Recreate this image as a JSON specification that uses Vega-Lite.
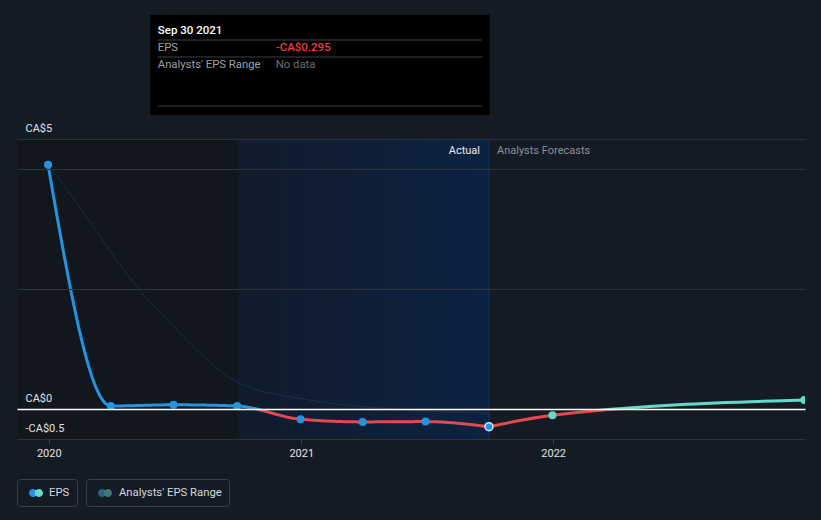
{
  "$schema": "https://vega.github.io/schema/vega-lite/v6.json",
  "width": 788,
  "height": 300,
  "autosize": {"type": "none"},
  "padding": {"left": 17, "top": 139, "right": 16, "bottom": 81},
  "background": "#151b24",
  "config": {
    "view": {"stroke": null},
    "font": "Roboto",
    "legend": {"labelFont": "Roboto", "labelFontSize": 11.3, "labelColor": "#d5d9df"}
  },
  "resolve": {"scale": {"strokeDash": "independent"}, "legend": {"strokeDash": "independent"}},
  "datasets": {
    "actual": [
      {"date": "2019-12-31", "eps": 4.07},
      {"date": "2020-03-31", "eps": 0.05},
      {"date": "2020-06-30", "eps": 0.07},
      {"date": "2020-09-30", "eps": 0.05},
      {"date": "2020-12-31", "eps": -0.17},
      {"date": "2021-03-31", "eps": -0.215},
      {"date": "2021-06-30", "eps": -0.21},
      {"date": "2021-09-30", "eps": -0.295}
    ],
    "forecast": [
      {"date": "2021-09-30", "eps": -0.295, "kind": "last actual"},
      {"date": "2021-12-31", "eps": -0.105, "kind": "estimate"},
      {"date": "2022-12-31", "eps": 0.15, "kind": "estimate"}
    ],
    "consensus": [
      {"date": "2019-12-31", "eps": 4.07},
      {"date": "2020-01-17", "eps": 3.82},
      {"date": "2020-05-12", "eps": 1.98},
      {"date": "2020-07-02", "eps": 1.35},
      {"date": "2020-09-30", "eps": 0.45},
      {"date": "2021-01-13", "eps": 0.15},
      {"date": "2021-05-13", "eps": 0.0},
      {"date": "2021-09-30", "eps": -0.07}
    ],
    "periods": [
      {"start": "2019-11-16", "end": "2020-09-30", "period": "before"},
      {"start": "2020-09-30", "end": "2021-09-30", "period": "last year"}
    ]
  },
  "layer": [
    {
      "data": {"name": "periods"},
      "transform": [{"filter": "datum.period === 'before'"}],
      "mark": {"type": "rect", "fill": "#12161d"},
      "encoding": {
        "x": {
          "field": "start", "type": "temporal",
          "scale": {"type": "utc", "domain": [{"year": 2019, "month": 11, "date": 16, "utc": true}, {"year": 2023, "month": 1, "date": 1, "utc": true}]},
          "axis": {
            "values": [{"year": 2020, "month": 1, "date": 1, "utc": true}, {"year": 2021, "month": 1, "date": 1, "utc": true}, {"year": 2022, "month": 1, "date": 1, "utc": true}],
            "format": "%Y", "title": null, "grid": false, "domain": false,
            "tickColor": "#3a414c", "tickSize": 5, "labelColor": "#e0e3e7", "labelFontSize": 11,
            "labelPadding": 3, "labelFlush": false, "labelFont": "Roboto"
          }
        },
        "x2": {"field": "end"}
      }
    },
    {
      "data": {"name": "periods"},
      "transform": [{"filter": "datum.period === 'last year'"}],
      "mark": {
        "type": "rect",
        "fill": {"gradient": "linear", "x1": 0, "y1": 0, "x2": 1, "y2": 0,
          "stops": [{"offset": 0, "color": "#111b2b"}, {"offset": 1, "color": "#0c2242"}]}
      },
      "encoding": {
        "x": {"field": "start", "type": "temporal"},
        "x2": {"field": "end"}
      }
    },
    {
      "data": {"name": "periods"},
      "transform": [{"filter": "datum.period === 'last year'"}],
      "mark": {"type": "rule", "color": "#163052", "strokeWidth": 1},
      "encoding": {
        "x": {"field": "end", "type": "temporal"}
      }
    },
    {
      "data": {"name": "consensus"},
      "mark": {
        "type": "line", "interpolate": "monotone", "strokeWidth": 1, "opacity": 0.45,
        "stroke": {"gradient": "linear", "x1": 0, "y1": 0, "x2": 0, "y2": 1,
          "stops": [{"offset": 0, "color": "#1e4d73"}, {"offset": 0.983, "color": "#1e4d73"}, {"offset": 0.983, "color": "#6a2a3a"}, {"offset": 1, "color": "#6a2a3a"}]}
      },
      "encoding": {
        "x": {"field": "date", "type": "temporal"},
        "y": {"field": "eps", "type": "quantitative"},
        "strokeDash": {
          "datum": "Analysts' EPS Range", "type": "nominal",
          "scale": {"range": [[1, 0]]},
          "legend": {
            "orient": "none", "legendX": 69, "legendY": 340, "title": null,
            "padding": 7, "strokeColor": "#3a414c", "cornerRadius": 3,
            "symbolOffset": 5, "labelOffset": 7, "symbolSize": 196,
            "encoding": {
              "symbols": {
                "shape": {"value": "M-1,0A0.57,0.57,0,1,0,0.14,0A0.57,0.57,0,1,0,-1,0ZM-0.14,0A0.57,0.57,0,1,0,1,0A0.57,0.57,0,1,0,-0.14,0Z"},
                "fill": {"value": {"gradient": "linear", "x1": 0, "y1": 0, "x2": 1, "y2": 0,
                  "stops": [{"offset": 0, "color": "#2c5f86"}, {"offset": 0.43, "color": "#2c5f86"}, {"offset": 0.43, "color": "#3d7a76"}, {"offset": 1, "color": "#3d7a76"}]}},
                "stroke": {"value": "transparent"},
                "strokeWidth": {"value": 0},
                "opacity": {"value": 1},
                "size": {"value": 196}
              }
            }
          }
        }
      }
    },
    {
      "data": {"name": "actual"},
      "mark": {
        "type": "line", "interpolate": "monotone", "strokeWidth": 3,
        "stroke": {"gradient": "linear", "x1": 0, "y1": 0, "x2": 0, "y2": 1,
          "stops": [{"offset": 0, "color": "#2394df"}, {"offset": 0.932, "color": "#2394df"}, {"offset": 0.932, "color": "#e5484d"}, {"offset": 1, "color": "#e5484d"}]}
      },
      "encoding": {
        "x": {"field": "date", "type": "temporal"},
        "y": {
          "field": "eps", "type": "quantitative",
          "scale": {"domain": [-0.5, 4.5], "nice": false, "zero": false},
          "axis": {
            "values": [-0.5, 0, 2, 4, 4.5], "title": null, "domain": false, "ticks": false, "tickSize": 0,
            "labelAlign": "left", "labelBaseline": "alphabetic", "labelPadding": -8, "labelOffset": -8,
            "labelColor": "#e0e3e7", "labelFontSize": 11, "labelFont": "Roboto",
            "labelOverlap": false, "labelFlush": false, "labelBound": false,
            "labelExpr": "datum.value === 4.5 ? 'CA$5' : datum.value === 0 ? 'CA$0' : datum.value === -0.5 ? '-CA$0.5' : ''",
            "gridColor": {"condition": {"test": "datum.value === 0", "value": "#ffffff"}, "value": "#2d333d"},
            "gridWidth": {"condition": {"test": "datum.value === 0", "value": 1.5}, "value": 1},
            "zindex": 1
          }
        },
        "strokeDash": {
          "datum": "EPS", "type": "nominal",
          "scale": {"range": [[1, 0]]},
          "legend": {
            "orient": "none", "legendX": 0, "legendY": 340, "title": null,
            "padding": 7, "strokeColor": "#3a414c", "cornerRadius": 3,
            "symbolOffset": 5, "labelOffset": 6, "symbolSize": 196,
            "encoding": {
              "symbols": {
                "shape": {"value": "M-1,0A0.57,0.57,0,1,0,0.14,0A0.57,0.57,0,1,0,-1,0ZM-0.14,0A0.57,0.57,0,1,0,1,0A0.57,0.57,0,1,0,-0.14,0Z"},
                "fill": {"value": {"gradient": "linear", "x1": 0, "y1": 0, "x2": 1, "y2": 0,
                  "stops": [{"offset": 0, "color": "#2394df"}, {"offset": 0.43, "color": "#2394df"}, {"offset": 0.43, "color": "#62dac6"}, {"offset": 1, "color": "#62dac6"}]}},
                "stroke": {"value": "transparent"},
                "strokeWidth": {"value": 0},
                "opacity": {"value": 1},
                "size": {"value": 196}
              }
            }
          }
        }
      }
    },
    {
      "data": {"name": "forecast"},
      "mark": {
        "type": "line", "interpolate": "monotone", "strokeWidth": 3,
        "stroke": {"gradient": "linear", "x1": 0, "y1": 0, "x2": 0, "y2": 1,
          "stops": [{"offset": 0, "color": "#62dac6"}, {"offset": 0.337, "color": "#62dac6"}, {"offset": 0.337, "color": "#e5484d"}, {"offset": 1, "color": "#e5484d"}]}
      },
      "encoding": {
        "x": {"field": "date", "type": "temporal"},
        "y": {"field": "eps", "type": "quantitative"}
      }
    },
    {
      "data": {"name": "forecast"},
      "transform": [{"filter": "datum.kind === 'estimate'"}],
      "mark": {"type": "point", "filled": true, "shape": "circle", "size": 64, "color": "#62dac6", "opacity": 1, "clip": true},
      "encoding": {
        "x": {"field": "date", "type": "temporal"},
        "y": {"field": "eps", "type": "quantitative"}
      }
    },
    {
      "data": {"name": "actual"},
      "mark": {"type": "point", "filled": true, "shape": "circle", "size": 64, "color": "#2394df", "stroke": "#dde6ef", "opacity": 1},
      "encoding": {
        "x": {"field": "date", "type": "temporal"},
        "y": {"field": "eps", "type": "quantitative"},
        "strokeWidth": {"condition": {"test": "datum.eps === -0.295", "value": 1.5}, "value": 0}
      }
    },
    {
      "data": {"values": [{"label": "Actual"}]},
      "mark": {"type": "text", "align": "right", "baseline": "middle", "dx": -9, "fontSize": 11, "color": "#e8eaed", "font": "Roboto"},
      "encoding": {
        "x": {"datum": {"year": 2021, "month": 9, "date": 30, "utc": true}, "type": "temporal"},
        "y": {"datum": 4.3, "type": "quantitative"},
        "text": {"field": "label"}
      }
    },
    {
      "data": {"values": [{"label": "Analysts Forecasts"}]},
      "mark": {"type": "text", "align": "left", "baseline": "middle", "dx": 8, "fontSize": 11, "color": "#8b9099", "font": "Roboto"},
      "encoding": {
        "x": {"datum": {"year": 2021, "month": 9, "date": 30, "utc": true}, "type": "temporal"},
        "y": {"datum": 4.3, "type": "quantitative"},
        "text": {"field": "label"}
      }
    },
    {
      "data": {"values": [{}]},
      "mark": {"type": "rect", "fill": "#000000"},
      "encoding": {
        "x": {"datum": {"year": 2020, "month": 5, "date": 27, "utc": true}, "type": "temporal"},
        "x2": {"datum": {"year": 2021, "month": 10, "date": 1, "utc": true}},
        "y": {"datum": 6.567, "type": "quantitative"},
        "y2": {"datum": 4.9}
      }
    },
    {
      "data": {"values": [{}]},
      "mark": {"type": "rule", "color": "#3a3f47", "strokeWidth": 1},
      "encoding": {
        "x": {"datum": {"year": 2020, "month": 6, "date": 7, "utc": true}, "type": "temporal"},
        "x2": {"datum": {"year": 2021, "month": 9, "date": 20, "utc": true}},
        "y": {"datum": 6.15, "type": "quantitative"}
      }
    },
    {
      "data": {"values": [{}]},
      "mark": {"type": "rule", "color": "#3a3f47", "strokeWidth": 1},
      "encoding": {
        "x": {"datum": {"year": 2020, "month": 6, "date": 7, "utc": true}, "type": "temporal"},
        "x2": {"datum": {"year": 2021, "month": 9, "date": 20, "utc": true}},
        "y": {"datum": 5.867, "type": "quantitative"}
      }
    },
    {
      "data": {"values": [{}]},
      "mark": {"type": "rule", "color": "#3a3f47", "strokeWidth": 1},
      "encoding": {
        "x": {"datum": {"year": 2020, "month": 6, "date": 7, "utc": true}, "type": "temporal"},
        "x2": {"datum": {"year": 2021, "month": 9, "date": 20, "utc": true}},
        "y": {"datum": 5.05, "type": "quantitative"}
      }
    },
    {
      "data": {"values": [{"label": "Sep 30 2021"}]},
      "mark": {"type": "text", "align": "left", "baseline": "middle", "fontSize": 11.5, "fontWeight": 500, "color": "#ffffff", "font": "Roboto"},
      "encoding": {
        "x": {"datum": {"year": 2020, "month": 6, "date": 7, "utc": true}, "type": "temporal"},
        "y": {"datum": 6.3, "type": "quantitative"},
        "text": {"field": "label"}
      }
    },
    {
      "data": {"values": [{"label": "EPS"}]},
      "mark": {"type": "text", "align": "left", "baseline": "middle", "fontSize": 11.3, "color": "#9ba0a8", "font": "Roboto"},
      "encoding": {
        "x": {"datum": {"year": 2020, "month": 6, "date": 7, "utc": true}, "type": "temporal"},
        "y": {"datum": 6.017, "type": "quantitative"},
        "text": {"field": "label"}
      }
    },
    {
      "data": {"values": [{"label": "-CA$0.295"}]},
      "mark": {"type": "text", "align": "left", "baseline": "middle", "fontSize": 11.5, "fontWeight": 500, "color": "#e8413f", "font": "Roboto"},
      "encoding": {
        "x": {"datum": {"year": 2020, "month": 11, "date": 25, "utc": true}, "type": "temporal"},
        "y": {"datum": 6.017, "type": "quantitative"},
        "text": {"field": "label"}
      }
    },
    {
      "data": {"values": [{"label": "Analysts' EPS Range"}]},
      "mark": {"type": "text", "align": "left", "baseline": "middle", "fontSize": 11.3, "color": "#9ba0a8", "font": "Roboto"},
      "encoding": {
        "x": {"datum": {"year": 2020, "month": 6, "date": 7, "utc": true}, "type": "temporal"},
        "y": {"datum": 5.733, "type": "quantitative"},
        "text": {"field": "label"}
      }
    },
    {
      "data": {"values": [{"label": "No data"}]},
      "mark": {"type": "text", "align": "left", "baseline": "middle", "fontSize": 11.3, "color": "#6c7179", "font": "Roboto"},
      "encoding": {
        "x": {"datum": {"year": 2020, "month": 11, "date": 25, "utc": true}, "type": "temporal"},
        "y": {"datum": 5.733, "type": "quantitative"},
        "text": {"field": "label"}
      }
    }
  ]
}
